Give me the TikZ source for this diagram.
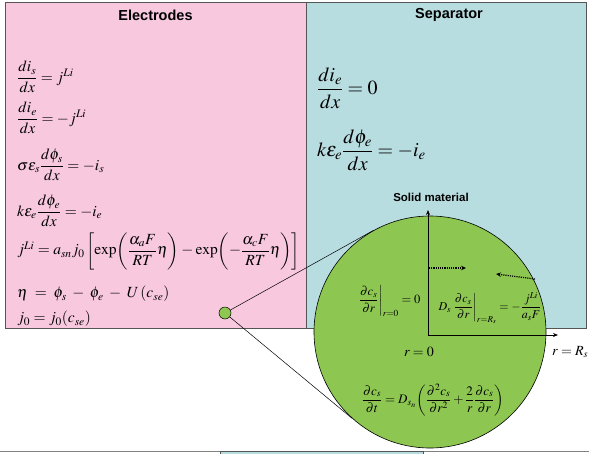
\documentclass[tikz,border=0pt]{standalone}
\usepackage{amsmath}
\usepackage{mathptmx}
\usepackage[no-math]{fontspec}
\setsansfont{Liberation Sans}
\usepackage{tikz}
\usepackage{xcolor}
\usetikzlibrary{arrows.meta}
\definecolor{elecpink}{RGB}{248,200,222}
\definecolor{sepblue}{RGB}{184,221,225}
\definecolor{grainfill}{RGB}{141,199,82}
\definecolor{boxedge}{RGB}{85,85,85}

\begin{document}
\begin{tikzpicture}[
    x=1pt, y=-1pt,
    panel/.style={draw=boxedge, line width=0.8pt},
    title/.style={font=\fontsize{14.5}{16}\selectfont\sffamily\bfseries},
    eqn/.style={anchor=west, inner sep=0, font=\fontsize{15.5}{18}\selectfont},
    bigeqn/.style={anchor=west, inner sep=0, font=\fontsize{20}{24}\selectfont},
    graineqn/.style={inner sep=0, font=\fontsize{12.5}{14}\selectfont},
    zoomline/.style={draw, line width=0.5pt},
    axis/.style={-{Stealth[length=5pt,width=4pt]}, line width=0.8pt},
    flux/.style={-{Stealth[length=5pt,width=4.5pt]}, densely dotted, line width=1.2pt}
]
\useasboundingbox (0,0) rectangle (589,453);

% panels
\filldraw[panel, fill=elecpink] (5,2) rectangle (306,328);
\filldraw[panel, fill=sepblue] (306,2) rectangle (586,328);
\draw[gray, line width=1.5pt] (0,451.5) -- (589,451.5);
\filldraw[fill=sepblue, draw=boxedge] (220,451) rectangle (423,460);

\node[title] (electitle) at (155.5,15) {Electrodes};
\node[title] (septitle) at (449,15) {Separator};

% electrode equations
\node[eqn] (cons1) at (17,77) {$\dfrac{di_s}{dx} = j^{Li}$};
\node[eqn] (cons2) at (17,118) {$\dfrac{di_e}{dx} = -j^{Li}$};
\node[eqn] (ohm1) at (17,165) {$\sigma\varepsilon_s \dfrac{d\phi_s}{dx} = -i_s$};
\node[eqn] (ohm2) at (17,211) {$k\varepsilon_e \dfrac{d\phi_e}{dx} = -i_e$};
\node[eqn] (bv) at (17,251) {$j^{Li} = a_{sn} j_0 \left[\exp\!\left(\dfrac{\alpha_a F}{RT}\eta\right) - \exp\!\left(-\dfrac{\alpha_c F}{RT}\eta\right)\right]$};
\node[eqn] (over) at (17,294) {$\eta \;=\; \phi_s \;-\; \phi_e \;-\; U\,(c_{se})$};
\node[eqn] (exch) at (17,319) {$j_0 = j_0(c_{se})$};

% separator equations
\node[bigeqn] (sep1) at (317,88) {$\dfrac{di_e}{dx} = 0$};
\node[bigeqn] (sep2) at (317,150) {$k\varepsilon_e \dfrac{d\phi_e}{dx} = -i_e$};

% particle
\node[circle, draw, line width=0.5pt, fill=grainfill, minimum size=12pt, inner sep=0] (dot) at (225,313) {};
\node[circle, draw, line width=0.6pt, fill=grainfill, minimum size=232pt, inner sep=0] (grain) at (430,332) {};
\draw[zoomline] (dot) -- (grain.119);
\draw[zoomline] (dot) -- (grain.228);

\coordinate (o) at (428,335);
\coordinate (rtop) at (428,210);
\coordinate (rend) at (558,335);
\draw[axis] (o) -- (rtop);
\draw[axis] (o) -- (rend);
\node[font=\fontsize{11.5}{13}\selectfont\sffamily\bfseries] (solid) at (431,197) {Solid material};

\coordinate (f1a) at (429,268);
\coordinate (f1b) at (466,268);
\coordinate (f2a) at (535,279);
\coordinate (f2b) at (496,274);
\draw[flux] (f1a) -- (f1b);
\draw[flux] (f2a) -- (f2b);

\node[graineqn] (bc0) at (389,301) {$\left.\dfrac{\partial c_s}{\partial r}\right|_{r=0} = 0$};
\node[graineqn, font=\fontsize{12}{14}\selectfont] (bcR) at (490,308) {$D_s \left.\dfrac{\partial c_s}{\partial r}\right|_{r=R_s} = -\dfrac{j^{Li}}{a_s F}$};
\node[inner sep=0, font=\fontsize{14}{16}\selectfont] (r0) at (419,352) {$r = 0$};
\node[anchor=west, inner sep=0, font=\fontsize{14}{16}\selectfont] (rR) at (552,352) {$r = R_s$};
\node[graineqn, font=\fontsize{13}{15}\selectfont] (diff) at (433,400) {$\dfrac{\partial c_s}{\partial t} = D_{s_n}\!\left(\dfrac{\partial^2 c_s}{\partial r^2} + \dfrac{2}{r}\dfrac{\partial c_s}{\partial r}\right)$};
\end{tikzpicture}
\end{document}
